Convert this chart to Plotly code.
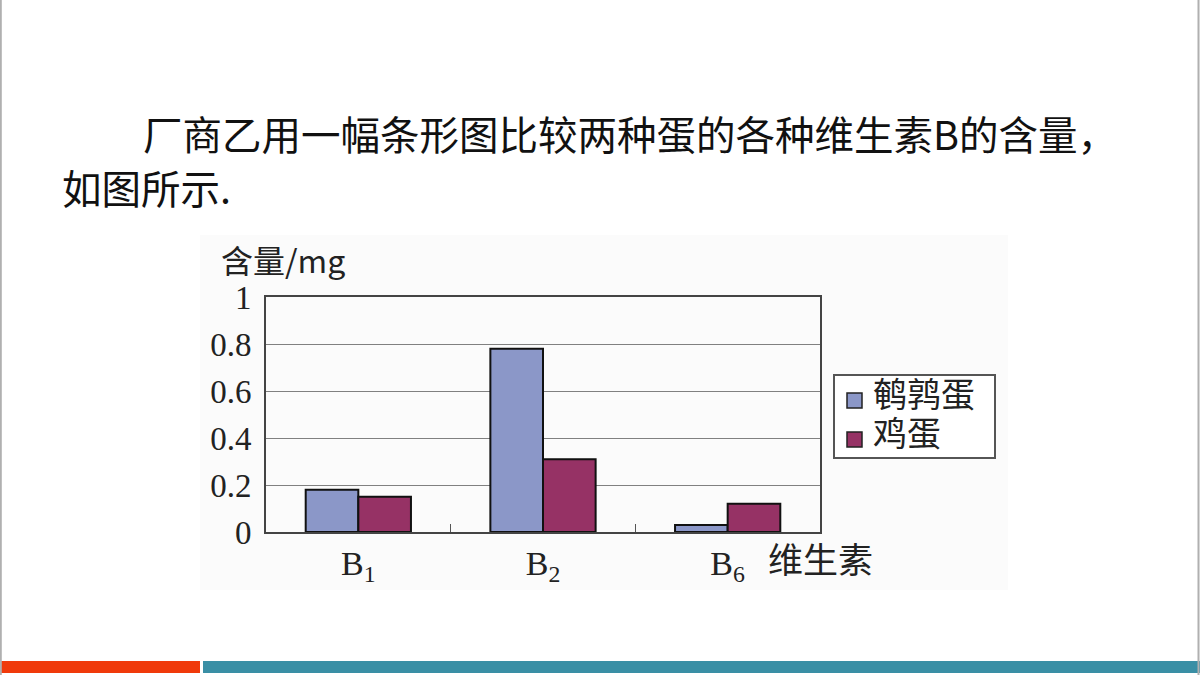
import plotly.graph_objects as go

categories = ["B<sub>1</sub>", "B<sub>2</sub>", "B<sub>6</sub>"]
quail = [0.18, 0.78, 0.03]
chicken = [0.15, 0.31, 0.12]
series_names = ["鹌鹑蛋", "鸡蛋"]
colors = ["#8b97c8", "#963265"]
y_ticks = [0, 0.2, 0.4, 0.6, 0.8, 1]
y_ticktext = ["0", "0.2", "0.4", "0.6", "0.8", "1"]

W, H = 1200, 675
serif = "Liberation Serif, Times New Roman, serif"
cjk = "Noto Sans CJK SC"


def px(x):
    return x / W


def py(y):
    # screen-pixel y (from top) -> paper fraction
    return max(0.0, min(1.0, 1 - y / H))


def ty(y):
    # glyph centre of CJK text -> annotation middle anchor
    return py(y - 4.5)


fig = go.Figure()
for name, vals, col in zip(series_names, [quail, chicken], colors):
    fig.add_trace(go.Bar(x=categories, y=vals, name=name,
                         marker=dict(color=col, line=dict(color="#111111", width=2))))

fig.update_layout(
    width=W, height=H,
    margin=dict(l=0, r=0, t=0, b=0),
    paper_bgcolor="white",
    plot_bgcolor="#dcdcdc",
    barmode="group",
    bargap=0.43,
    bargroupgap=0,
    showlegend=False,
    xaxis=dict(domain=[px(266), px(820)], showline=True, linecolor="#444444", linewidth=2,
               mirror=True, ticks="inside", tickson="boundaries", ticklen=8,
               tickcolor="#555555", tickfont=dict(family=serif, size=34, color="#222222"),
               showgrid=False, fixedrange=True, automargin=False),
    yaxis=dict(domain=[py(532), py(297)], range=[0, 1], tickvals=y_ticks, ticktext=y_ticktext,
               showline=True, linecolor="#444444", linewidth=2, mirror=True,
               ticks="", showgrid=True, gridcolor="#808080", gridwidth=1.2,
               zeroline=False, tickfont=dict(family=serif, size=33, color="#222222"),
               ticklabelstandoff=6, fixedrange=True, automargin=False),
)

# chart image background and slide decorations
fig.add_shape(type="rect", xref="paper", yref="paper", x0=px(200), x1=px(1008),
              y0=py(590), y1=py(235), fillcolor="#fbfbfb", line=dict(width=0), layer="below")
fig.add_shape(type="rect", xref="paper", yref="paper", x0=0, x1=px(200),
              y0=py(673), y1=py(661), fillcolor="#f03a0b", line=dict(width=0))
fig.add_shape(type="rect", xref="paper", yref="paper", x0=px(203), x1=1,
              y0=py(673), y1=py(661), fillcolor="#3a8fa5", line=dict(width=0))
fig.add_shape(type="line", xref="paper", yref="paper", x0=px(0.8), x1=px(0.8), y0=0, y1=1,
              line=dict(color="#b0b0b0", width=2))
fig.add_shape(type="line", xref="paper", yref="paper", x0=px(1198.5), x1=px(1198.5), y0=0, y1=1,
              line=dict(color="#b0b0b0", width=2))

# legend box (drawn to match the reference's compact item spacing)
fig.add_shape(type="rect", xref="paper", yref="paper", x0=px(834), x1=px(995),
              y0=py(458), y1=py(375), fillcolor="white", line=dict(color="#555555", width=2))
legend_rows = [400, 439]
for name, col, yc in zip(series_names, colors, legend_rows):
    fig.add_shape(type="rect", xref="paper", yref="paper", x0=px(847), x1=px(862),
                  y0=py(yc + 8), y1=py(yc - 7), fillcolor=col,
                  line=dict(color="#222222", width=1.5))
    fig.add_annotation(text=name, xref="paper", yref="paper", x=px(871), y=ty(yc - 3),
                       xanchor="left", yanchor="middle", showarrow=False,
                       font=dict(family=cjk, size=34, color="#222222"))

# texts
fig.add_annotation(text="厂商乙用一幅条形图比较两种蛋的各种维生素B的含量，", xref="paper", yref="paper",
                   x=px(141), y=ty(137), xanchor="left", yanchor="middle", showarrow=False,
                   font=dict(family=cjk, size=39.5, color="#111111"))
fig.add_annotation(text="如图所示.", xref="paper", yref="paper",
                   x=px(60), y=ty(191), xanchor="left", yanchor="middle", showarrow=False,
                   font=dict(family=cjk, size=39.5, color="#111111"))
fig.add_annotation(text="含量/mg", xref="paper", yref="paper",
                   x=px(219), y=ty(264), xanchor="left", yanchor="middle", showarrow=False,
                   font=dict(family=cjk, size=32, color="#222222"))
fig.add_annotation(text="维生素", xref="paper", yref="paper",
                   x=px(766), y=ty(562), xanchor="left", yanchor="middle", showarrow=False,
                   font=dict(family=cjk, size=35, color="#222222"))

post = (
    "var s=document.createElement('style');"
    "s.innerHTML='html,body{margin:0;padding:0;overflow:hidden;width:1200px;height:675px;}"
    ".plotly-graph-div{position:fixed !important;top:0;left:0;}';"
    "document.head.appendChild(s);"
)
fig.write_html("out.html", post_script=post, config={"displayModeBar": False})
